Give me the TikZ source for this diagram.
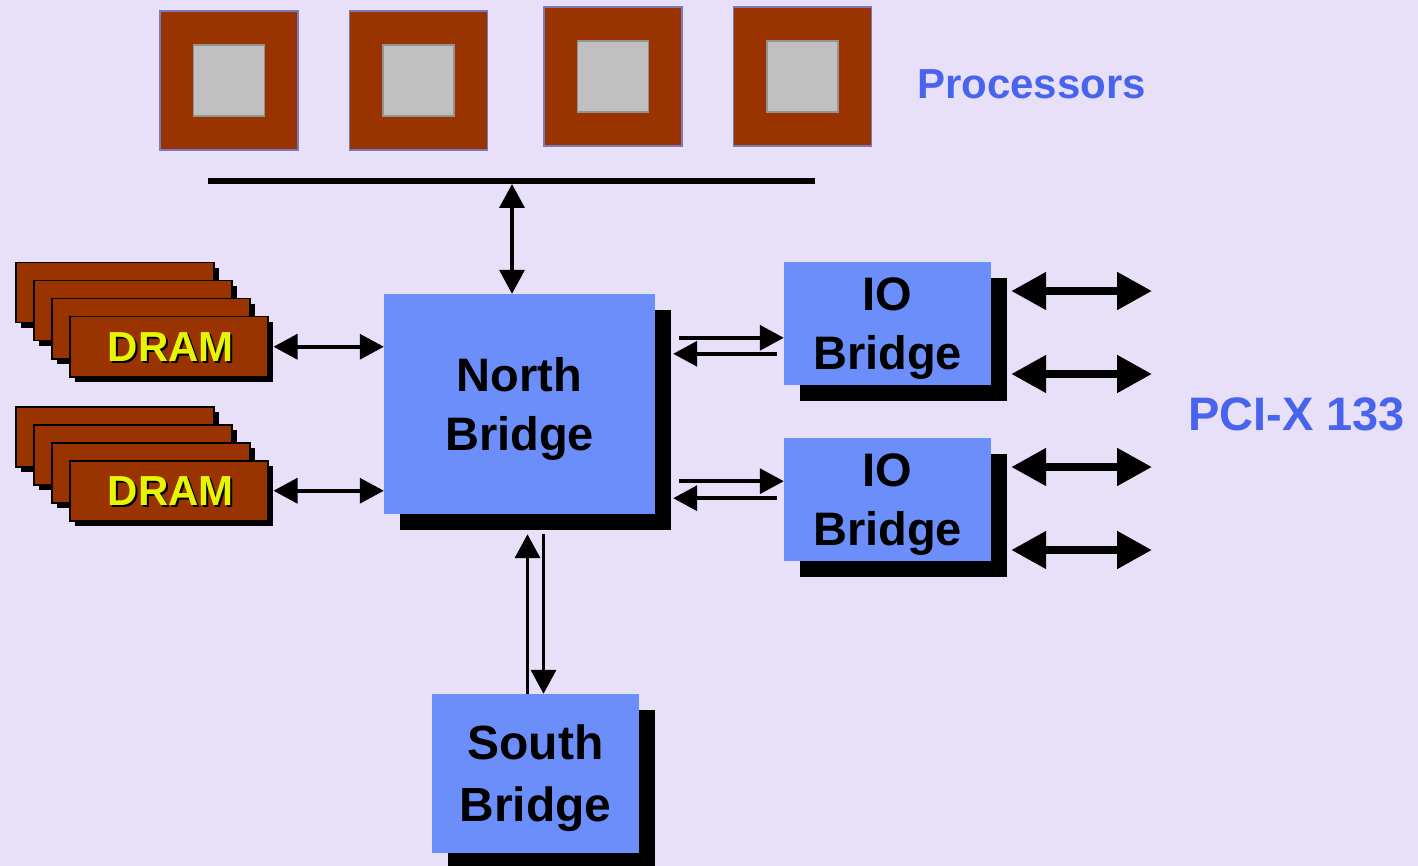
\documentclass[tikz,border=0pt]{standalone}
\usepackage{fontspec}
\setmainfont{Liberation Sans}
\usetikzlibrary{calc,arrows.meta,shadows}
\definecolor{bgcol}{RGB}{232,224,248}
\definecolor{chipred}{RGB}{153,51,0}
\definecolor{diegray}{RGB}{192,192,192}
\definecolor{bridgeblue}{RGB}{107,142,250}
\definecolor{labelblue}{RGB}{72,100,238}
\definecolor{dramyellow}{RGB}{230,245,0}
\newcommand{\makecpu}[3]{
	\node[cpu] (#1) at (#2,#3) {};
	\node[die] (#1die) at (#1.center) {};
}
\newcommand{\makedram}[3]{
	\foreach \i in {0,...,3}
		\node[dram] (#1\i) at ({#2+18*\i},{#3+18*\i}) {};
	\node[dramtext,text=black] (#1shade) at ($(#13.center)+(4,2)$) {DRAM};
	\node[dramtext,text=dramyellow] (#1label) at ($(#13.center)+(2,0)$) {DRAM};
}

\begin{document}
\begin{tikzpicture}[x=1pt,y=-1pt,
	>={Triangle[length=24pt,width=25pt]},
	cpu/.style={fill=chipred,draw=gray!70!blue!80,line width=1.2pt,minimum width=138,minimum height=139,inner sep=0},
	die/.style={fill=diegray,draw=gray!85,line width=1.2pt,minimum size=71,inner sep=0},
	dram/.style={anchor=north west,fill=chipred,draw=black,line width=1.5pt,minimum width=198,minimum height=60,inner sep=0,
		general shadow={fill=black,shadow xshift=5pt,shadow yshift=-5pt}},
	dramtext/.style={inner sep=0,font=\bfseries\fontsize{42}{50}\selectfont},
	bridge/.style={fill=bridgeblue,minimum width=207,minimum height=123,inner sep=0,align=center,text depth=0pt,
		font=\bfseries\fontsize{47}{59}\selectfont,general shadow={fill=black,shadow xshift=16pt,shadow yshift=-16pt}},
	biglabel/.style={anchor=base west,inner sep=0,text=labelblue,font=\bfseries\fontsize{#1}{#1}\selectfont},
	thinarrow/.style={line width=3.5pt},
	pciarrow/.style={{Triangle[length=35pt,width=36pt]}-{Triangle[length=35pt,width=36pt]},line width=8pt}]
	\fill[bgcol] (0,0) rectangle (1418,866);
	\useasboundingbox (0,0) rectangle (1418,866);

	% processors and their bus
	\makecpu{P1}{229}{80.5}
	\makecpu{P2}{418.5}{80.5}
	\makecpu{P3}{613}{76.5}
	\makecpu{P4}{802.5}{76.5}
	\node[biglabel=42] (cpulabel) at (917,99) {Processors};
	\coordinate (busL) at (208,181);
	\coordinate (busR) at (815,181);
	\coordinate (busT) at (512,184);
	\draw[line width=6pt] (busL) -- (busR);

	% bridges
	\node[bridge,minimum width=271,minimum height=220] (NB) at (519.5,404) {North\\Bridge};
	\node[bridge] (IO1) at (887.5,323.5) {IO\\Bridge};
	\node[bridge] (IO2) at (887.5,499.5) {IO\\Bridge};
	\node[bridge,minimum height=159,font=\bfseries\fontsize{48}{62}\selectfont] (SB) at (535.5,773.5) {South\\Bridge};
	\node[biglabel=47] (pcilabel) at (1188,430) {PCI-X 133};

	% memory
	\makedram{dramA}{15}{262}
	\makedram{dramB}{15}{406}

	\draw[thinarrow,<->] (busT) -- (busT |- NB.north);
	\draw[thinarrow,<->] ([xshift=5pt]dramA3.east) -- (dramA3.east -| NB.west);
	\draw[thinarrow,<->] ([xshift=5pt]dramB3.east) -- (dramB3.east -| NB.west);

	\draw[thinarrow,->] ($(NB.north east)+(24,44)$) -- ($(IO1.west |- NB.north)+(0,44)$);
	\draw[thinarrow,->] ($(IO1.west |- NB.north)+(-7,60)$) -- ($(NB.north east)+(18,60)$);
	\draw[thinarrow,->] ($(NB.south east)+(24,-33)$) -- ($(IO2.west |- NB.south)+(0,-33)$);
	\draw[thinarrow,->] ($(IO2.west |- NB.south)+(-7,-16)$) -- ($(NB.south east)+(18,-16)$);

	\draw[thinarrow,->] ($(SB.north)+(-8,0)$) -- ($(SB.north |- NB.south)+(-8,20)$);
	\draw[thinarrow,->] ($(SB.north |- NB.south)+(8,20)$) -- ($(SB.north)+(8,0)$);

	\foreach \y/\io [count=\n] in {291/IO1,374/IO1,467/IO2,550/IO2} {
		\coordinate (pci\n) at (1152,\y);
		\draw[pciarrow] ($(\io.east |- pci\n)+(20,0)$) -- (pci\n);
	}
\end{tikzpicture}
\end{document}
